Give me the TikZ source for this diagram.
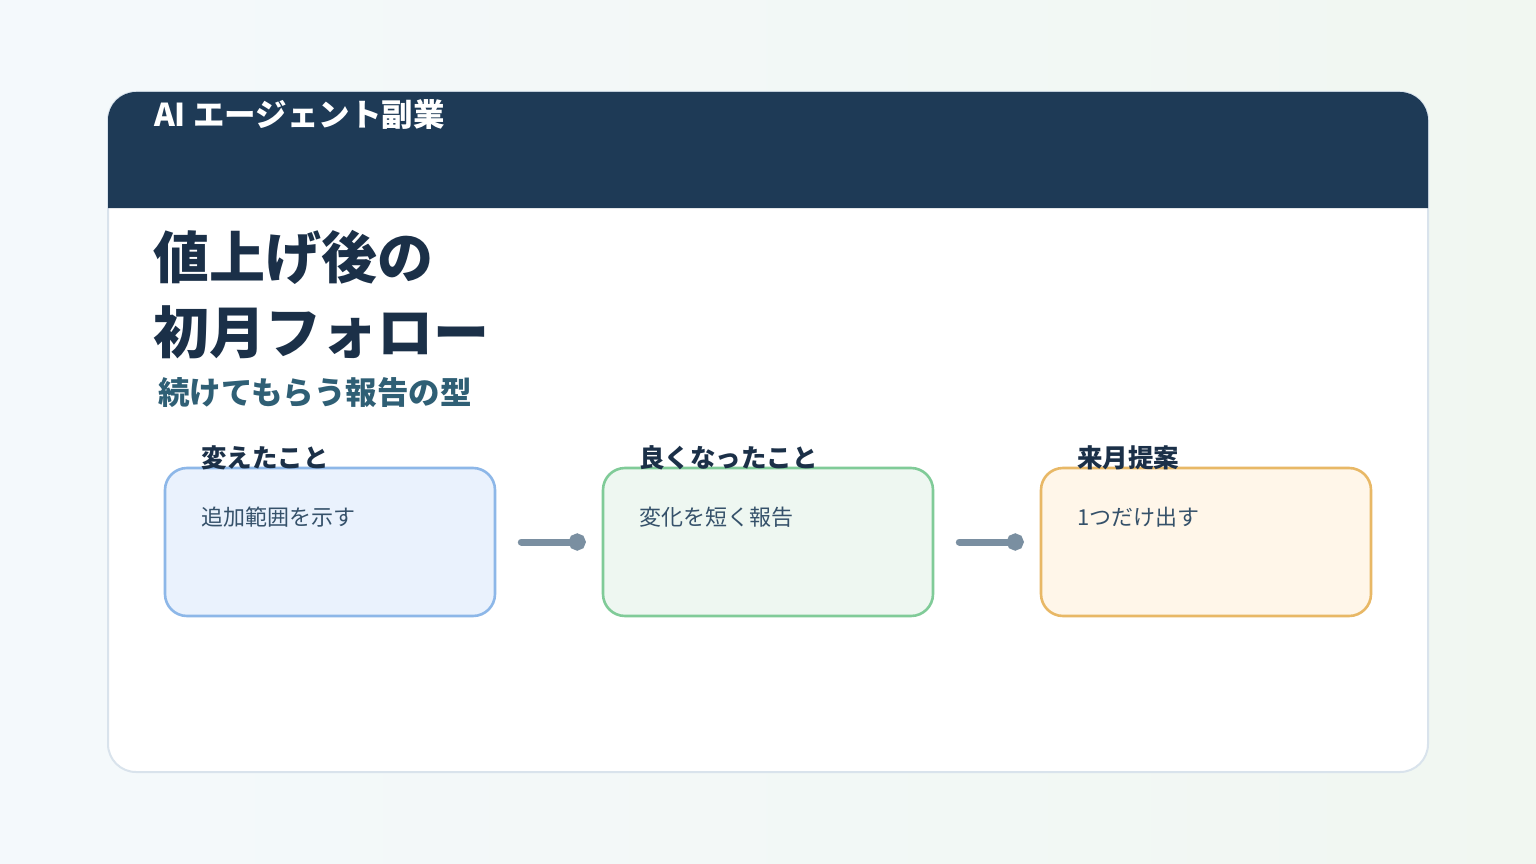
\documentclass[tikz,border=0pt]{standalone}
\usepackage{fontspec}
\setmainfont{Noto Sans CJK JP}
\usetikzlibrary{arrows.meta}
\definecolor{bgL}{HTML}{F4F9FC}
\definecolor{bgR}{HTML}{F1F7F1}
\definecolor{cardline}{HTML}{D9E3EC}
\definecolor{headbg}{HTML}{1E3A56}
\definecolor{titlec}{HTML}{1B3048}
\definecolor{subc}{HTML}{2F5F75}
\definecolor{bodyc}{HTML}{35516A}
\definecolor{connc}{HTML}{7A8FA1}
\definecolor{blueL}{HTML}{8DB7E8}
\definecolor{blueF}{HTML}{EAF2FD}
\definecolor{greenL}{HTML}{80CB98}
\definecolor{greenF}{HTML}{EEF7F1}
\definecolor{orangeL}{HTML}{E8B866}
\definecolor{orangeF}{HTML}{FFF6E9}
\tikzset{
  stagebox/.style={draw, rectangle, rounded corners=22pt, line width=2.6pt, minimum width=330pt, minimum height=148pt, inner sep=0pt},
  stagelabel/.style={anchor=west, inner sep=0pt, text=titlec, font=\fontsize{25.5}{30}\selectfont\bfseries},
  stagetext/.style={anchor=west, inner sep=0pt, text=bodyc, font=\fontsize{22}{26}\selectfont},
  conn/.style={draw=connc, line width=7pt, line cap=round, shorten <=25pt, shorten >=16pt, -{Circle[length=17pt,width=17pt]}},
}
\begin{document}
\begin{tikzpicture}[x=1pt,y=-1pt]
\useasboundingbox (0,0) rectangle (1536,864);
\shade[left color=bgL, right color=bgR] (0,0) rectangle (1536,864);
% card
\draw[fill=white, draw=cardline, line width=2pt, rounded corners=28pt] (108,92) rectangle (1428,772);
\fill[headbg] (108,208) [rounded corners=28pt] -- (108,92) -- (1428,92) [sharp corners] -- (1428,208) -- cycle;
\node[anchor=west, inner sep=0pt, text=white, font=\fontsize{31.5}{36}\selectfont\bfseries] (head) at (154,115) {AI エージェント副業};
% title
\node[anchor=west, inner sep=0pt, text=titlec, font=\fontsize{56}{66}\selectfont\bfseries] (t1) at (153,257) {値上げ後の};
\node[anchor=west, inner sep=0pt, text=titlec, font=\fontsize{56}{66}\selectfont\bfseries] (t2) at (153,332) {初月フォロー};
\node[anchor=west, inner sep=0pt, text=subc, font=\fontsize{31.5}{36}\selectfont\bfseries] (sub) at (158,393) {続けてもらう報告の型};
% boxes
\node[stagebox, draw=blueL, fill=blueF] (b1) at (330,542) {};
\node[stagebox, draw=greenL, fill=greenF] (b2) at (768,542) {};
\node[stagebox, draw=orangeL, fill=orangeF] (b3) at (1206,542) {};
\node[stagelabel] (l1) at (201,458) {変えたこと};
\node[stagelabel] (l2) at (639,458) {良くなったこと};
\node[stagelabel] (l3) at (1077,458) {来月提案};
\node[stagetext] (x1) at (201,517) {追加範囲を示す};
\node[stagetext] (x2) at (639,517) {変化を短く報告};
\node[stagetext] (x3) at (1077,517) {1つだけ出す};
% connectors
\draw[conn] (b1.east) -- (b2.west);
\draw[conn] (b2.east) -- (b3.west);
\end{tikzpicture}
\end{document}
